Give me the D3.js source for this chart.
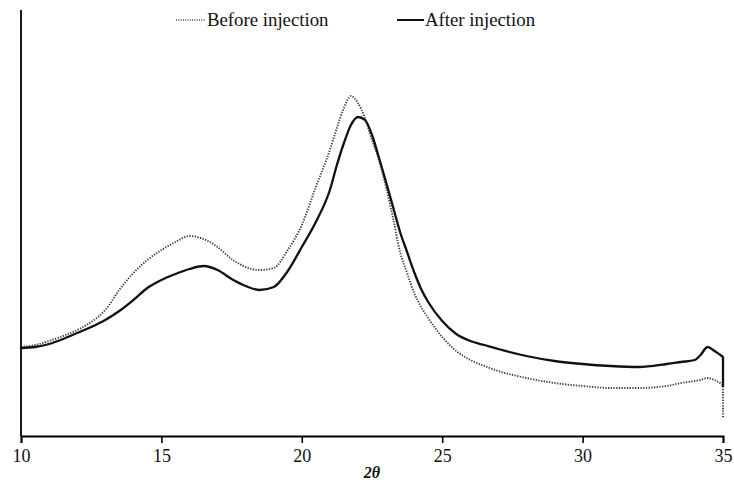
<!DOCTYPE html>
<html>
<head>
<meta charset="utf-8">
<script src="https://cdn.jsdelivr.net/npm/d3@7"></script>
<style>
  html, body { margin: 0; padding: 0; background: #fff; }
  svg { display: block; }
  text { font-family: "Liberation Serif", "Times New Roman", serif; }
</style>
</head>
<body>
<svg id="chart" width="734" height="483"></svg>
<script>
// Diffraction angle (2θ, degrees)
const twoTheta = [10, 10.5, 11, 11.5, 12, 12.5, 13, 13.5, 14, 14.5, 15, 15.5, 16, 16.5, 17, 17.5,
  18, 18.5, 19, 19.5, 20, 20.5, 21, 21.25, 21.5, 21.75, 22, 22.25, 22.5, 22.75, 23, 23.25, 23.5,
  23.75, 24, 24.25, 24.5, 25, 25.5, 26, 26.5, 27, 28, 29, 30, 31, 32, 33, 33.5, 34, 34.2, 34.45,
  34.7, 35, 35];

// Intensity (a.u.) before injection
const beforeInjection = [178, 182, 190, 200, 212, 228, 252, 292, 326, 352, 372, 388, 400, 394, 378, 354,
  338, 332, 336, 372, 422, 498, 572, 616, 656, 680, 666, 636, 592, 552, 498, 436, 368,
  326, 286, 258, 236, 198, 170, 152, 140, 130, 116, 106, 100, 96, 96, 100, 106, 110, 112, 116,
  112, 102, 36];

// Intensity (a.u.) after injection
const afterInjection = [176, 178, 184, 194, 206, 218, 232, 250, 272, 296, 312, 324, 334, 340, 332, 314,
  300, 292, 298, 330, 378, 428, 492, 542, 586, 622, 638, 632, 602, 556, 508, 458, 408,
  368, 328, 294, 268, 230, 204, 190, 182, 174, 160, 150, 144, 140, 138, 144, 148, 152, 162, 178,
  170, 158, 98];

const xTicks = [10, 15, 20, 25, 30, 35];
const seriesNames = ["Before injection", "After injection"];

const svg = d3.select("#chart");
const plotLeft = 21, plotRight = 723, plotTop = 10, plotBottom = 436;

const x = d3.scaleLinear().domain([10, 35]).range([plotLeft, plotRight]);
const y = d3.scaleLinear().domain([0, 852]).range([plotBottom, plotTop]);

// Smooth path through the scan, then the detector's final drop at the last angle
function scanPath(vals) {
  const pts = vals.map((v, i) => [x(twoTheta[i]), y(v)]);
  const last = pts[pts.length - 1];
  const body = d3.line().curve(d3.curveMonotoneX)(pts.slice(0, -1));
  return body + `L${last[0]},${last[1]}`;
}

svg.append("path")
  .attr("d", scanPath(beforeInjection))
  .attr("fill", "none")
  .attr("stroke", "#3c3c3c")
  .attr("stroke-width", 1.9)
  .attr("stroke-dasharray", "1.3,1.4");

svg.append("path")
  .attr("d", scanPath(afterInjection))
  .attr("fill", "none")
  .attr("stroke", "#111")
  .attr("stroke-width", 2.3)
  .attr("stroke-linejoin", "round");

// Axes
const xAxis = svg.append("g")
  .attr("transform", `translate(0,${plotBottom})`)
  .call(d3.axisBottom(x).tickValues(xTicks).tickSize(7).tickPadding(6).tickFormat(d3.format("d")));
xAxis.select(".domain").attr("stroke", "#000").attr("stroke-width", 1.8);
xAxis.selectAll(".tick line").attr("stroke", "#000").attr("stroke-width", 1.6);
xAxis.selectAll(".tick text")
  .attr("font-family", "Liberation Serif, Times New Roman, serif")
  .attr("font-size", 18)
  .attr("fill", "#111");

svg.append("line")
  .attr("x1", plotLeft).attr("x2", plotLeft)
  .attr("y1", plotTop).attr("y2", plotBottom)
  .attr("stroke", "#000").attr("stroke-width", 1.8);

// Axis title
svg.append("text")
  .attr("x", (plotLeft + plotRight) / 2)
  .attr("y", 478)
  .attr("text-anchor", "middle")
  .attr("font-size", 16)
  .attr("font-weight", "bold")
  .attr("font-style", "italic")
  .attr("fill", "#111")
  .text("2θ");

// Legend
const legend = svg.append("g");
legend.append("line")
  .attr("x1", 176).attr("x2", 205).attr("y1", 20).attr("y2", 20)
  .attr("stroke", "#444").attr("stroke-width", 1.3).attr("stroke-dasharray", "1,1.3");
legend.append("text")
  .attr("x", 207).attr("y", 26)
  .attr("font-size", 18.8).attr("fill", "#111")
  .text(seriesNames[0]);
legend.append("line")
  .attr("x1", 397).attr("x2", 424).attr("y1", 20).attr("y2", 20)
  .attr("stroke", "#111").attr("stroke-width", 2);
legend.append("text")
  .attr("x", 425).attr("y", 26)
  .attr("font-size", 18.8).attr("fill", "#111")
  .text(seriesNames[1]);
</script>
</body>
</html>
